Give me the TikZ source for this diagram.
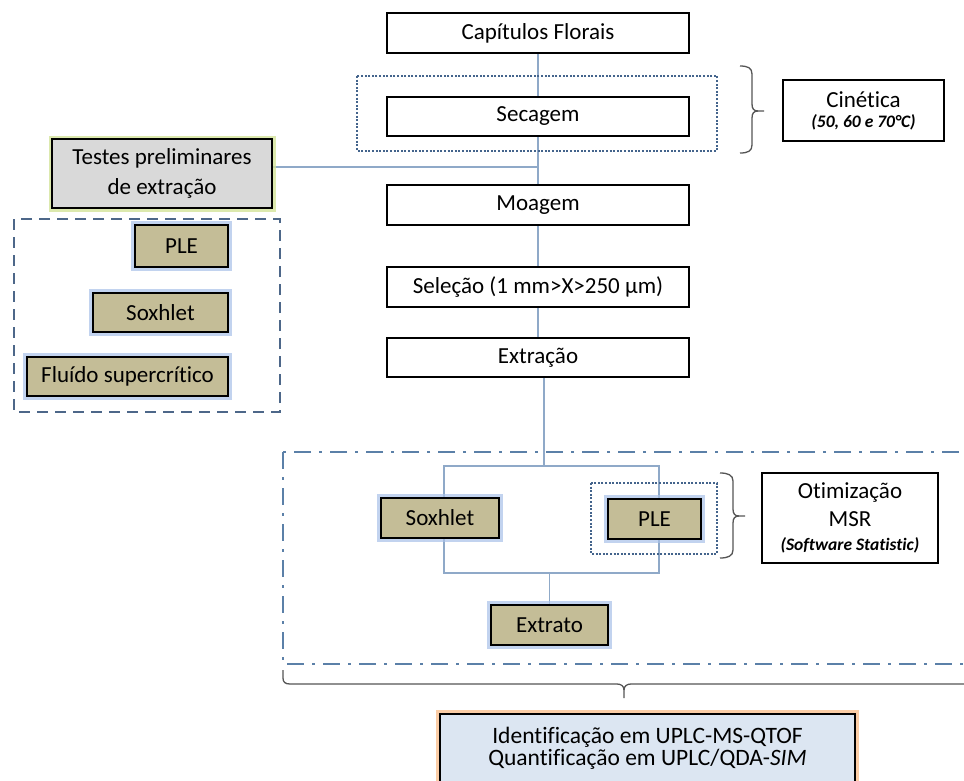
\documentclass[tikz,border=0pt]{standalone}
\usepackage{fontspec}
\setmainfont[Ligatures=NoCommon]{Carlito}
\usetikzlibrary{backgrounds}
\definecolor{connc}{HTML}{8FA9C8}
\definecolor{dotc}{HTML}{44648C}
\definecolor{dashc}{HTML}{4D6789}
\definecolor{ddc}{HTML}{5B80A8}
\definecolor{tanc}{HTML}{C4BD97}
\definecolor{glowb}{HTML}{A8C0E8}
\definecolor{glowy}{HTML}{D3E39A}
\definecolor{glowo}{HTML}{FAC090}
\definecolor{grayc}{HTML}{D9D9D9}
\definecolor{finc}{HTML}{DCE6F2}
\definecolor{bracec}{HTML}{555555}
\begin{document}
\begin{tikzpicture}[x=1pt,y=-1pt,
  wbox/.style={draw=black, line width=2.2pt, fill=white, inner sep=0pt, font=\fontsize{23}{27}\selectfont},
  tanbox/.style={draw=black, line width=2.8pt, fill=tanc, inner sep=0pt, font=\fontsize{23}{27}\selectfont,
    preaction={draw=glowb, line width=8pt, draw opacity=0.7}},
  testbox/.style={draw=black, line width=2.2pt, fill=grayc, inner sep=0pt, font=\fontsize{23}{30}\selectfont,
    preaction={draw=glowy, line width=7pt, draw opacity=0.8}},
  finbox/.style={draw=black, line width=2.4pt, fill=finc, inner sep=0pt, font=\fontsize{23.5}{22}\selectfont,
    preaction={draw=glowo, line width=8pt, draw opacity=0.8}},
  conn/.style={draw=connc, line width=1.3pt},
  dotbox/.style={draw=dotc, line width=2.2pt, dash pattern=on 2pt off 1.6pt},
  dashbox/.style={draw=dashc, line width=2.2pt, dash pattern=on 11pt off 7pt},
  ddbox/.style={draw=ddc, line width=2.6pt, dash pattern=on 17pt off 8pt on 3pt off 8pt},
  bracel/.style={draw=bracec, line width=1.3pt}]
\clip (0,0) rectangle (964,780);
\useasboundingbox (0,0) rectangle (964,780);

% main column
\node[wbox, minimum width=302, minimum height=40] (cap) at (538,33) {Capítulos Florais};
\draw[dotbox] (357,76) rectangle (717,151);
\node[wbox, minimum width=302, minimum height=39] (sec) at (538,116.5) {Secagem};
\node[wbox, minimum width=302, minimum height=40] (moa) at (538,205) {Moagem};
\node[wbox, minimum width=302, minimum height=40] (sel) at (538,287) {Seleção (1 mm>X>250 μm)};
\node[wbox, minimum width=302, minimum height=39] (ext) at (538,357.5) {Extração};

% kinetics
\node[wbox, minimum width=161, minimum height=61, align=center, font=\fontsize{23}{20}\selectfont] (cin) at (863.5,110.5)
  {Cinética\\{\fontsize{17.5}{20}\selectfont\bfseries\itshape (50, 60 e 70°C)}};
\draw[bracel] (740,66) .. controls (748,66) and (752,68) .. (752,74) -- (752,104)
  .. controls (752,109) and (754,111) .. (758,111) -- (764,111);
\draw[bracel] (758,111) .. controls (754,111) and (752,113) .. (752,118) -- (752,145)
  .. controls (752,151) and (748,153) .. (740,153);

% preliminary tests
\node[testbox, minimum width=220, minimum height=69, align=center] (tes) at (162,173.5) {Testes preliminares\\de extração};
\draw[dashbox] (14,219) rectangle (280,412);
\node[tanbox, minimum width=93, minimum height=42] (lple) at (181.5,246) {PLE};
\node[tanbox, minimum width=135, minimum height=39] (lsox) at (160.5,312.5) {Soxhlet};
\node[tanbox, minimum width=201, minimum height=39] (lflu) at (127.5,376.5) {Fluído supercrítico};

% optimisation block
\draw[ddbox] (283,452) rectangle (985,664);
\node[tanbox, minimum width=118, minimum height=40] (bsox) at (440,518) {Soxhlet};
\node[tanbox, minimum width=93, minimum height=40] (bple) at (654.5,519) {PLE};
\draw[dotbox] (591,483) rectangle (717,554);
\draw[bracel] (720,473) .. controls (728,473) and (733,475) .. (733,481) -- (733,509)
  .. controls (733,514) and (735,516) .. (739,516) -- (745,516);
\draw[bracel] (739,516) .. controls (735,516) and (733,518) .. (733,523) -- (733,550)
  .. controls (733,556) and (728,558) .. (720,558);
\node[wbox, minimum width=176, minimum height=90, align=center, font=\fontsize{23}{28}\selectfont] (oti) at (850,518)
  {Otimização\\MSR\\[-4pt]{\fontsize{17.5}{20}\selectfont\bfseries\itshape (Software Statistic)}};
\node[tanbox, minimum width=117, minimum height=40] (extr) at (549.5,625) {Extrato};

% bottom brace
\draw[bracel] (283,670) -- (283,678) .. controls (283,682) and (285,684) .. (290,684) -- (617,684)
  .. controls (621,684) and (624,686) .. (624,690) -- (624,698);
\draw[bracel] (985,684) -- (631,684) .. controls (627,684) and (624,686) .. (624,690);

\node[finbox, minimum width=415, minimum height=68, align=center] (fin) at (647.5,748)
  {Identificação em UPLC-MS-QTOF\\Quantificação em UPLC/QDA-\textit{SIM}};

% connectors
\begin{scope}[on background layer]
  \draw[conn] (cap.south) -- (moa.north);
  \draw[conn] (moa.south) -- (sel.north);
  \draw[conn] (sel.south) -- (ext.north);
  \coordinate (j1) at (538,167);
  \draw[conn] (tes.east |- j1) -- (j1);
  \coordinate (b1) at (544,466);
  \draw[conn] (ext.south -| b1) -- (b1);
  \coordinate (r1) at (444,466);
  \coordinate (r2) at (659,573);
  \draw[conn] (r1) rectangle (r2);
  \draw[conn] (extr.north |- r2) -- (extr.north);
\end{scope}
\end{tikzpicture}
\end{document}
